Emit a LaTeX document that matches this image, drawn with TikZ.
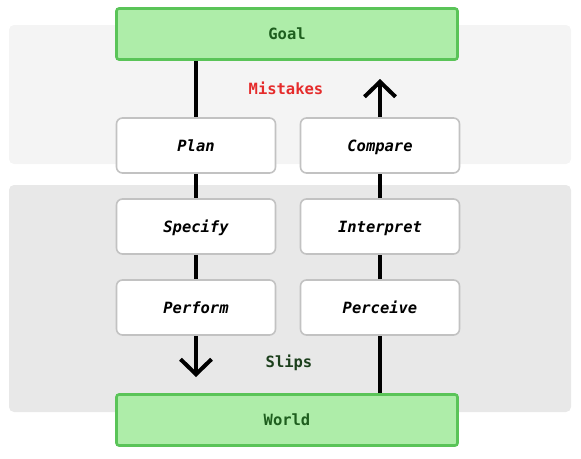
\documentclass[tikz,border=0pt]{standalone}
\usepackage{fontspec}
\setmonofont{DejaVu Sans Mono}
\usetikzlibrary{arrows.meta}
\definecolor{panelA}{HTML}{F4F4F4}
\definecolor{panelB}{HTML}{E8E8E8}
\definecolor{greenfill}{HTML}{AEEDA9}
\definecolor{greenline}{HTML}{5AC458}
\definecolor{greentext}{HTML}{1E5E1E}
\definecolor{boxline}{HTML}{C2C2C2}
\definecolor{mistred}{HTML}{E52B2B}
\definecolor{slipgreen}{HTML}{1C3F1C}
\begin{document}
\begin{tikzpicture}[x=1pt,y=-1pt,
  endbox/.style={font=\fontsize{15.5}{18}\selectfont\ttfamily\bfseries, text=greentext,
    fill=greenfill, draw=greenline, line width=2.6pt, rounded corners=2.5pt,
    minimum width=341pt, minimum height=51pt, inner sep=0pt, text height=11pt, text depth=0pt},
  stagebox/.style={font=\fontsize{15.5}{18}\selectfont\ttfamily\bfseries\itshape, fill=white, draw=boxline,
    line width=1.6pt, rounded corners=6pt, minimum width=159pt, minimum height=55pt, inner sep=0pt,
    text height=11pt, text depth=0pt},
  conn/.style={line width=4pt, draw=black},
  tipstyle/.style={-{Straight Barb[length=15pt,width=31pt]}},
  lbl/.style={font=\fontsize{15.5}{18}\selectfont\ttfamily\bfseries, text height=11pt, text depth=0pt}
]
\useasboundingbox (0,0) rectangle (581,458);
\fill[panelA, rounded corners=5pt] (9,25) rectangle (571,164);
\fill[panelB, rounded corners=5pt] (9,185) rectangle (571,412);

\node[endbox] (goal) at (287,34) {Goal};
\node[endbox] (world) at (287,420) {World};

\node[stagebox] (plan) at (196,145.5) {Plan};
\node[stagebox] (specify) at (196,226.5) {Specify};
\node[stagebox] (perform) at (196,307.5) {Perform};
\node[stagebox] (compare) at (380,145.5) {Compare};
\node[stagebox] (interpret) at (380,226.5) {Interpret};
\node[stagebox] (perceive) at (380,307.5) {Perceive};

\coordinate (lefttip) at (196,377);
\coordinate (righttip) at (380,79);

\draw[conn] (plan.north |- goal.south) -- (plan.north);
\draw[conn] (plan.south) -- (specify.north);
\draw[conn] (specify.south) -- (perform.north);
\draw[conn, tipstyle] (perform.south) -- (lefttip);
\draw[conn] (compare.north |- world.north) -- (perceive.south);
\draw[conn] (perceive.north) -- (interpret.south);
\draw[conn] (interpret.north) -- (compare.south);
\draw[conn, tipstyle] (compare.north) -- (righttip);

\node[lbl, text=mistred] (mistakes) at (286,89) {Mistakes};
\node[lbl, text=slipgreen] (slips) at (289,362) {Slips};
\end{tikzpicture}
\end{document}
